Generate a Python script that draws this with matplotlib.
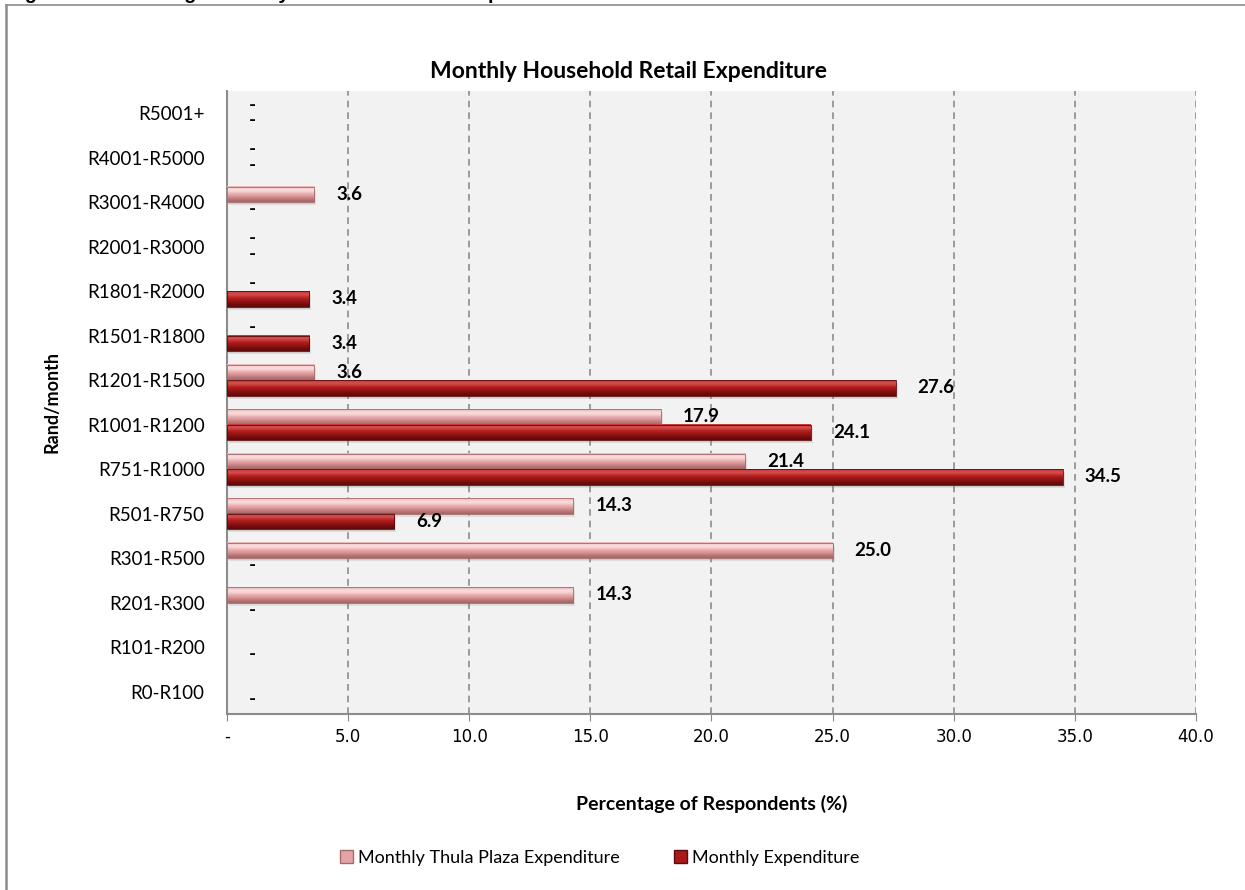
import numpy as np
import matplotlib.pyplot as plt
from matplotlib.colors import to_rgb
from matplotlib.patches import Patch
from matplotlib.lines import Line2D

categories = ['R0-R100', 'R101-R200', 'R201-R300', 'R301-R500', 'R501-R750',
              'R751-R1000', 'R1001-R1200', 'R1201-R1500', 'R1501-R1800',
              'R1801-R2000', 'R2001-R3000', 'R3001-R4000', 'R4001-R5000', 'R5001+']
# nan = no value in the table (no label shown)
thula = [np.nan, np.nan, 14.3, 25.0, 14.3, 21.4, 17.9, 3.6, 0, 0, 0, 3.6, 0, 0]
monthly = [0, 0, 0, 0, 6.9, 34.5, 24.1, 27.6, 3.4, 3.4, 0, 0, 0, 0]
series_names = ['Monthly Thula Plaza Expenditure', 'Monthly Expenditure']
x_ticks = [0, 5, 10, 15, 20, 25, 30, 35, 40]

# top-to-bottom shading for the bevelled bars
thula_shades = ['#ebb8b8', '#fce4e4', '#f6d0d0', '#e8aaaa', '#da9696', '#c27e7e', '#a86868']
monthly_shades = ['#c43a3a', '#da5656', '#c22c2c', '#aa1a1a', '#961414', '#7c0e0e', '#600a0a']

fig = plt.figure(figsize=(12.45, 8.9), dpi=100)
ax = fig.add_axes([0.1823, 0.1978, 0.7783, 0.7000])
ax.set_facecolor('#f2f2f2')

y = np.arange(len(categories))
h = 0.35


def bevel_bars(ys, vals, shades):
    grad = np.array([to_rgb(c) for c in shades])[:, None, :]
    for yy, v in zip(ys, vals):
        if np.isnan(v) or v <= 0:
            continue
        # soft drop shadow
        ax.barh(yy - 0.07, v, height=h, left=0.08, color='#808080', alpha=0.18, zorder=2)
        ax.barh(yy - 0.04, v, height=h, left=0.04, color='#808080', alpha=0.18, zorder=2)
        ax.imshow(grad, extent=(0, v, yy - h / 2, yy + h / 2), aspect='auto',
                  origin='upper', interpolation='bicubic', zorder=3)
        ax.barh(yy, v, height=h, fill=False, edgecolor=shades[-1], linewidth=0.6, zorder=4)


def value_labels(ys, vals):
    for yy, v in zip(ys, vals):
        if np.isnan(v):
            continue
        txt = '-' if v == 0 else f'{v:.1f}'
        ax.annotate(txt, xy=(v, yy), xytext=(22, 0), textcoords='offset pixels',
                    ha='left', va='center', fontsize=13.5, fontweight='bold',
                    family='Lato', color='black', zorder=5)


bevel_bars(y + h / 2, thula, thula_shades)
bevel_bars(y - h / 2, monthly, monthly_shades)
value_labels(y + h / 2, thula)
value_labels(y - h / 2, monthly)

ax.set_xlim(0, 40)
ax.set_ylim(-0.5, len(categories) - 0.5)

ax.set_xticks(x_ticks)
ax.set_xticklabels(['-' if t == 0 else f'{t:.1f}' for t in x_ticks],
                   fontsize=12, family='DejaVu Sans')
ax.set_yticks(y)
ax.set_yticklabels(categories, fontsize=13.5, family='Lato')
ax.tick_params(axis='y', length=0, pad=16)
ax.tick_params(axis='x', length=5, color='#888888', pad=5, direction='out')

ax.grid(axis='x', color='#8c8c8c', linestyle=(0, (4, 3)), linewidth=1.2, zorder=1)
ax.set_axisbelow(True)
for s in ['top', 'right']:
    ax.spines[s].set_visible(False)
for s in ['left', 'bottom']:
    ax.spines[s].set_color('#8c8c8c')
    ax.spines[s].set_linewidth(1.5)

ax.set_xlabel('Percentage of Respondents (%)', fontsize=14, fontweight='bold', family='Lato')
ax.xaxis.set_label_coords(0.5, -0.130)
ax.set_ylabel('Rand/month', fontsize=13, fontweight='bold', family='Lato')
ax.yaxis.set_label_coords(-0.172, 0.5)

fig.text(0.5045, 1 - 72 / 890, 'Monthly Household Retail Expenditure', ha='center',
         va='center', fontsize=16.5, fontweight='bold', family='Lato')

# caption sitting above the chart box, mostly cut off by the page edge
fig.text(7 / 1245, 1 + 0.6 / 890, 'Figure 4.12:  Average Monthly Household Retail Expenditure',
         ha='left', va='baseline', fontsize=14.4, fontweight='bold', family='Liberation Sans')

# chart box border
fig.add_artist(Line2D([6 / 1245, 6 / 1245], [0, 1 - 5 / 890], color='#8c8c8c', lw=1.8))
fig.add_artist(Line2D([6 / 1245, 1], [1 - 5 / 890, 1 - 5 / 890], color='#8c8c8c', lw=1.2))

handles = [Patch(facecolor='#e2a4a4', edgecolor='#a86868', label=series_names[0]),
           Patch(facecolor='#a81a1a', edgecolor='#600a0a', label=series_names[1])]
fig.legend(handles=handles, loc='center', bbox_to_anchor=(600 / 1245, 1 - 858 / 890),
           ncol=2, frameon=False, prop={'family': 'Lato', 'size': 13},
           handlelength=0.7, handleheight=0.7, handletextpad=0.3, columnspacing=3.0)

fig.savefig('out.png', dpi=100)
